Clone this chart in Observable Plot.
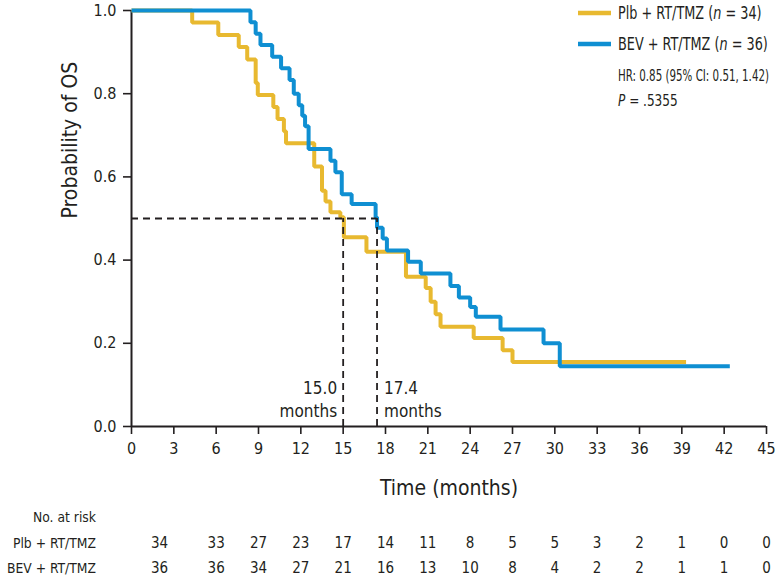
<!DOCTYPE html>
<html><head><meta charset="utf-8">
<script src="https://cdn.jsdelivr.net/npm/d3@7"></script>
<script src="https://cdn.jsdelivr.net/npm/@observablehq/plot@0.6"></script>
<style>
body{margin:0;background:#fff;}
#chart svg{font-family:"Liberation Sans Narrow","DejaVu Sans Condensed",Roboto,sans-serif;}
</style></head><body><div id="chart"></div>
<script>
// Placebo + RT/TMZ (n = 34)
const plbTime = [0, 4.3, 6.15, 7.6, 8.2, 8.8, 8.95, 10.05, 10.35, 10.8, 10.95, 12.95, 13.5, 13.75, 14.1, 14.8, 15.05, 16.65, 19.45, 20.85, 21.2, 21.55, 21.9, 24.25, 26.3, 27.0, 39.3];
const plbSurv = [1, 0.971, 0.941, 0.912, 0.882, 0.826, 0.797, 0.768, 0.739, 0.71, 0.681, 0.625, 0.567, 0.541, 0.515, 0.503, 0.455, 0.42, 0.36, 0.333, 0.30, 0.27, 0.24, 0.213, 0.183, 0.155, 0.155];
// BEV + RT/TMZ (n = 36)
const bevTime = [0, 8.43, 8.8, 9.14, 9.97, 10.6, 11.2, 11.5, 11.85, 12.1, 12.3, 12.55, 14.1, 14.45, 14.9, 15.6, 17.3, 17.4, 17.8, 18.1, 19.6, 20.5, 22.6, 23.2, 24.0, 24.4, 26.15, 29.2, 30.35, 42.4];
const bevSurv = [1, 0.972, 0.944, 0.917, 0.889, 0.861, 0.833, 0.80, 0.772, 0.747, 0.722, 0.667, 0.639, 0.611, 0.558, 0.535, 0.503, 0.478, 0.452, 0.423, 0.396, 0.368, 0.338, 0.31, 0.287, 0.264, 0.233, 0.200, 0.145, 0.145];

const seriesNames = ["Plb + RT/TMZ", "BEV + RT/TMZ"];
const seriesN = [34, 36];
const seriesColors = ["#E8B930", "#0F8FD2"];

const medians = [15.0, 17.4];
const medianLabels = ["15.0\nmonths", "17.4\nmonths"];
const medianLevel = 0.5;

const riskMonths = [0, 6, 9, 12, 15, 18, 21, 24, 27, 30, 33, 36, 39, 42, 45];
const riskPlb = [34, 33, 27, 23, 17, 14, 11, 8, 5, 5, 3, 2, 1, 0, 0];
const riskBev = [36, 36, 34, 27, 21, 16, 13, 10, 8, 4, 2, 2, 1, 1, 0];

const xTicks = [0, 3, 6, 9, 12, 15, 18, 21, 24, 27, 30, 33, 36, 39, 42, 45];
const yTicks = [0, 0.2, 0.4, 0.6, 0.8, 1.0];

const statLines = ["HR: 0.85 (95% CI: 0.51, 1.42)", ".5355"];

const plb = plbTime.map((t, i) => ({t, s: plbSurv[i]}));
const bev = bevTime.map((t, i) => ({t, s: bevSurv[i]}));
const riskRows = [riskPlb, riskBev].flatMap((row, r) =>
  row.map((v, i) => ({m: riskMonths[i], v, r, first: i === 0})));

const ink = "#231F20";
const dash = "7,5";
const rowDy = [117, 142];

const riskMarks = [0, 1].flatMap(r => [
  Plot.text(riskRows.filter(d => !d.first && d.r === r), {x: "m", y: 0, dy: rowDy[r], text: "v", fontSize: 15, fill: ink}),
  Plot.text(riskRows.filter(d => d.first && d.r === r), {x: "m", y: 0, dy: rowDy[r], dx: 28, text: "v", fontSize: 15, fill: ink})
]);

const chart = Plot.plot({
  width: 780,
  height: 580,
  marginLeft: 131,
  marginRight: 14,
  marginTop: 10,
  marginBottom: 154,
  x: {domain: [0, 45]},
  y: {domain: [0, 1]},
  style: {color: ink, background: "#fff"},
  marks: [
    Plot.axisX({ticks: xTicks, tickSize: 8, tickPadding: 8, fontSize: 16, strokeWidth: 1.6, label: null, tickFormat: d => d}),
    Plot.axisY({ticks: yTicks, tickSize: 8, tickPadding: 7, fontSize: 16, strokeWidth: 1.6, label: null, tickFormat: d3.format(".1f")}),
    Plot.ruleY([0], {stroke: ink, strokeWidth: 2}),
    Plot.ruleX([0], {stroke: ink, strokeWidth: 2}),
    Plot.line(plb, {x: "t", y: "s", curve: "step-after", stroke: seriesColors[0], strokeWidth: 4, strokeLinejoin: "miter", strokeLinecap: "butt"}),
    Plot.line(bev, {x: "t", y: "s", curve: "step-after", stroke: seriesColors[1], strokeWidth: 4, strokeLinejoin: "miter", strokeLinecap: "butt"}),
    Plot.ruleY([medianLevel], {x1: 0, x2: d3.max(medians), stroke: ink, strokeWidth: 1.8, strokeDasharray: dash}),
    Plot.ruleX(medians, {x: d => d, y1: 0, y2: medianLevel, stroke: ink, strokeWidth: 1.8, strokeDasharray: dash}),
    Plot.text([medianLabels[0]], {x: medians[0], y: 0, text: d => d, textAnchor: "end", dx: -6, dy: -28, fontSize: 17, lineHeight: 1.35, fill: ink}),
    Plot.text([medianLabels[1]], {x: medians[1], y: 0, text: d => d, textAnchor: "start", dx: 7, dy: -28, fontSize: 17, lineHeight: 1.35, fill: ink}),
    Plot.text(["Time (months)"], {frameAnchor: "bottom", dy: 68, fontSize: 21, fill: ink}),
    Plot.text(["Probability of OS"], {frameAnchor: "left", rotate: -90, dx: -61, fontSize: 21, fill: ink}),
    ...riskMarks
  ]
});
document.getElementById("chart").appendChild(chart);

// Row labels and legend drawn in the SVG
const s = d3.select(chart);
const rowLabels = s.append("g").attr("font-size", 14.5).attr("fill", ink).attr("text-anchor", "end")
  .attr("transform", "translate(96,0) scale(0.95,1)");
rowLabels.append("text").attr("x", 0).attr("y", 517).attr("dy", "0.35em").text("No. at risk");
seriesNames.forEach((name, i) => {
  rowLabels.append("text").attr("x", 0).attr("y", 426 + rowDy[i]).attr("dy", "0.35em").text(name);
});

const leg = s.append("g").attr("font-size", 17).attr("fill", ink).attr("text-anchor", "start");
const legText = leg.append("g").attr("transform", "translate(618,0) scale(0.84,1)");
seriesNames.forEach((name, i) => {
  const y = 13 + i * 31;
  leg.append("line").attr("x1", 578).attr("x2", 611).attr("y1", y).attr("y2", y)
    .attr("stroke", seriesColors[i]).attr("stroke-width", 4.5);
  const t = legText.append("text").attr("x", 0).attr("y", y).attr("dy", "0.35em");
  t.append("tspan").text(name + " (");
  t.append("tspan").attr("font-style", "italic").text("n");
  t.append("tspan").text(" = " + seriesN[i] + ")");
});
leg.append("text").attr("x", 618).attr("y", 75).attr("dy", "0.35em").attr("font-size", 16)
  .attr("textLength", 151).attr("lengthAdjust", "spacingAndGlyphs").text(statLines[0]);
const p = legText.append("text").attr("x", 0).attr("y", 100).attr("dy", "0.35em").attr("font-size", 16);
p.append("tspan").attr("font-style", "italic").text("P");
p.append("tspan").text(" = " + statLines[1]);
</script>
</body></html>
